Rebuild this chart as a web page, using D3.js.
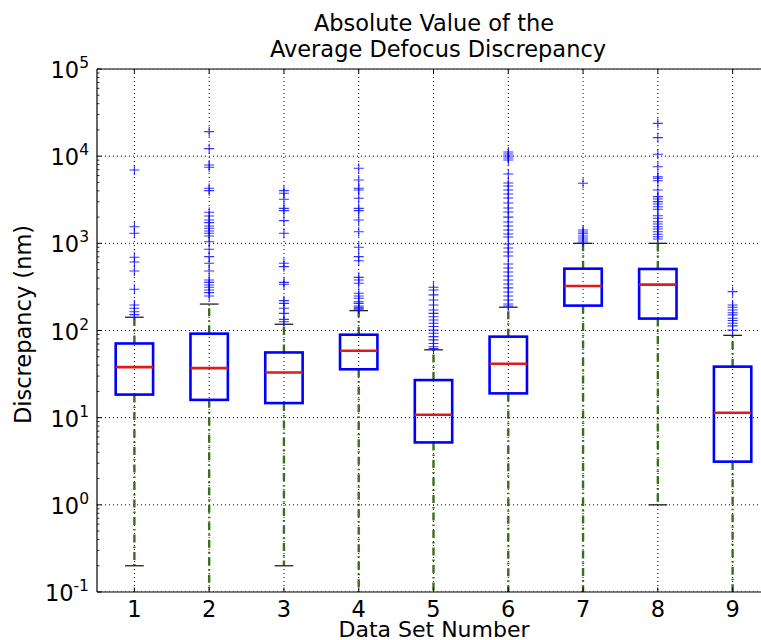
<!DOCTYPE html>
<html>
<head>
<meta charset="utf-8">
<script src="https://cdn.jsdelivr.net/npm/d3@7"></script>
<style>
  html, body { margin: 0; padding: 0; background: #fff; }
  svg text { font-family: "DejaVu Sans", sans-serif; fill: #000; }
</style>
</head>
<body>
<div id="chart"></div>
<script>
// data set numbers
const sets = [1, 2, 3, 4, 5, 6, 7, 8, 9];
// box statistics (nm)
const q1 = [18.4, 16, 14.7, 35.9, 5.2, 19, 193, 137, 3.13];
const median = [38, 37, 33, 58.6, 10.8, 41.6, 324, 336, 11.4];
const q3 = [71, 92, 56, 89.5, 27, 85, 512, 508, 38.5];
const whiskerLow = [0.2, 0.01, 0.2, 0.01, 0.01, 0.01, 0.01, 1, 0.01];
const whiskerHigh = [142, 201, 118, 169, 60, 185, 1000, 1000, 88];
// outliers ("fliers") per data set
const fliers = [
    [6940, 1552, 1303, 692, 611, 482, 297, 196, 180, 164, 152],
    [19100, 12190, 7920, 7450, 4280, 4020, 2270, 2060, 1853, 1726, 1580, 1489, 1387, 1303, 1213,
     1044, 855, 703, 590, 482, 379, 357, 333, 313, 292, 272, 249],
    [4020, 3750, 3200, 2520, 2370, 1820, 1303, 590, 540, 357, 339, 220, 205, 180, 157, 134, 126],
    [7260, 5330, 4280, 4090, 3290, 2520, 2370, 1853, 1360, 901, 703, 632, 407, 379, 348, 267,
     249, 234, 214, 205, 191, 185, 180, 175],
    [313, 292, 256, 224, 196, 172, 157, 144, 132, 121, 111, 101, 93, 85, 78, 71, 65, 62],
    [11170, 10590, 10050, 9530, 9040, 6240, 4920, 4550, 4090, 3680, 3310, 2900, 2540, 2290, 2000,
     1760, 1580, 1420, 1280, 1180, 982, 883, 796, 716, 579, 521, 469, 422, 379, 342, 308, 277,
     249, 224, 201, 191],
    [4890, 1420, 1349, 1290, 1213, 1151, 1092, 1035],
    [23800, 16300, 10500, 7570, 5810, 5570, 5230, 4090, 3430, 3230, 3010, 2830, 2630, 2460, 2070,
     1940, 1770, 1667, 1552, 1459, 1360, 1270, 1191, 1122],
    [279, 196, 185, 172, 160, 151, 138, 130, 121, 113, 101]
];
const yDecades = [-1, 0, 1, 2, 3, 4, 5];

const width = 761, height = 640;
const margin = {top: 69, left: 97, bottom: 592, right: 770};

const svg = d3.select('#chart').append('svg')
    .attr('width', width)
    .attr('height', height);

const x = d3.scaleLinear().domain([0.5, 9.5]).range([margin.left, margin.right]);
const y = d3.scaleLog().domain([0.1, 1e5]).range([margin.bottom, margin.top]);

svg.append('defs').append('clipPath')
    .attr('id', 'plotClip')
    .append('rect')
    .attr('x', margin.left)
    .attr('y', margin.top)
    .attr('width', margin.right - margin.left)
    .attr('height', margin.bottom - margin.top);

const plot = svg.append('g').attr('clip-path', 'url(#plotClip)');

// grid
plot.selectAll('.vgrid').data(sets).enter().append('line')
    .attr('x1', d => x(d)).attr('x2', d => x(d))
    .attr('y1', margin.top).attr('y2', margin.bottom)
    .attr('stroke', '#000').attr('stroke-width', 1)
    .attr('stroke-dasharray', '1,3');
plot.selectAll('.hgrid').data(yDecades).enter().append('line')
    .attr('x1', margin.left).attr('x2', margin.right)
    .attr('y1', d => y(Math.pow(10, d))).attr('y2', d => y(Math.pow(10, d)))
    .attr('stroke', '#000').attr('stroke-width', 1)
    .attr('stroke-dasharray', '1,3');

const boxW = 0.5, capW = 0.25;
const boxes = plot.selectAll('.box').data(sets).enter().append('g');

// whiskers
boxes.append('line')
    .attr('x1', d => x(d)).attr('x2', d => x(d))
    .attr('y1', (d, i) => y(q3[i])).attr('y2', (d, i) => y(whiskerHigh[i]))
    .attr('stroke', '#3a6f1e').attr('stroke-width', 2.4)
    .attr('stroke-dasharray', '8,4,1.5,4');
boxes.append('line')
    .attr('x1', d => x(d)).attr('x2', d => x(d))
    .attr('y1', (d, i) => y(q1[i])).attr('y2', (d, i) => y(whiskerLow[i]))
    .attr('stroke', '#3a6f1e').attr('stroke-width', 2.4)
    .attr('stroke-dasharray', '8,4,1.5,4');

// caps
[whiskerHigh, whiskerLow].forEach(arr => {
    boxes.append('line')
        .attr('x1', d => x(d - capW / 2)).attr('x2', d => x(d + capW / 2))
        .attr('y1', (d, i) => y(arr[i])).attr('y2', (d, i) => y(arr[i]))
        .attr('stroke', '#222').attr('stroke-width', 1.3);
});

// boxes
boxes.append('rect')
    .attr('x', d => x(d - boxW / 2))
    .attr('width', x(1 + boxW) - x(1))
    .attr('y', (d, i) => y(q3[i]))
    .attr('height', (d, i) => y(q1[i]) - y(q3[i]))
    .attr('fill', 'none')
    .attr('stroke', '#0000ff').attr('stroke-width', 2.6);

// medians
boxes.append('line')
    .attr('x1', d => x(d - boxW / 2)).attr('x2', d => x(d + boxW / 2))
    .attr('y1', (d, i) => y(median[i])).attr('y2', (d, i) => y(median[i]))
    .attr('stroke', '#dd1c1c').attr('stroke-width', 2.6);

// outliers
const plus = 'M-5,0H5M0,-5V5';
boxes.each(function (d, i) {
    d3.select(this).selectAll('path.flier').data(fliers[i]).enter().append('path')
        .attr('class', 'flier')
        .attr('transform', v => `translate(${x(d)},${y(v)})`)
        .attr('d', plus)
        .attr('fill', 'none')
        .attr('stroke', '#0000ff').attr('stroke-width', 1.1)
        .attr('stroke-opacity', 0.8);
});

// spines
const axesG = svg.append('g');
axesG.append('line')
    .attr('x1', margin.left).attr('x2', margin.left)
    .attr('y1', margin.top).attr('y2', margin.bottom)
    .attr('stroke', '#000').attr('stroke-width', 1.2);
axesG.append('line')
    .attr('x1', margin.left).attr('x2', margin.right)
    .attr('y1', margin.bottom).attr('y2', margin.bottom)
    .attr('stroke', '#000').attr('stroke-width', 1.2);
axesG.append('line')
    .attr('x1', margin.left).attr('x2', margin.right)
    .attr('y1', margin.top).attr('y2', margin.top)
    .attr('stroke', '#000').attr('stroke-width', 1.2);

// y ticks (major + minor, inward)
const minor = [];
yDecades.slice(0, -1).forEach(e => {
    for (let k = 2; k <= 9; k++) minor.push(k * Math.pow(10, e));
});
axesG.selectAll('.ymin').data(minor).enter().append('line')
    .attr('x1', margin.left).attr('x2', margin.left + 2.5)
    .attr('y1', d => y(d)).attr('y2', d => y(d))
    .attr('stroke', '#000').attr('stroke-width', 0.8);
axesG.selectAll('.ymaj').data(yDecades).enter().append('line')
    .attr('x1', margin.left).attr('x2', margin.left + 4.5)
    .attr('y1', d => y(Math.pow(10, d))).attr('y2', d => y(Math.pow(10, d)))
    .attr('stroke', '#000').attr('stroke-width', 1);

// y tick labels: 10^n
const ylab = axesG.selectAll('.ylab').data(yDecades).enter().append('text')
    .attr('x', margin.left - 8)
    .attr('y', d => y(Math.pow(10, d)) + 9)
    .attr('text-anchor', 'end')
    .style('font-size', '22.5px');
ylab.append('tspan').text('10');
ylab.append('tspan')
    .attr('dy', -10)
    .style('font-size', '15.5px')
    .text(d => d);

// x ticks (inward, bottom and top)
axesG.selectAll('.xtb').data(sets).enter().append('line')
    .attr('x1', d => x(d)).attr('x2', d => x(d))
    .attr('y1', margin.bottom).attr('y2', margin.bottom - 4.5)
    .attr('stroke', '#000').attr('stroke-width', 1);
axesG.selectAll('.xtt').data(sets).enter().append('line')
    .attr('x1', d => x(d)).attr('x2', d => x(d))
    .attr('y1', margin.top).attr('y2', margin.top + 4.5)
    .attr('stroke', '#000').attr('stroke-width', 1);
axesG.selectAll('.xlab').data(sets).enter().append('text')
    .attr('x', d => x(d))
    .attr('y', 617)
    .attr('text-anchor', 'middle')
    .style('font-size', '22.5px')
    .text(d => d);

// axis titles
svg.append('text')
    .attr('x', 434)
    .attr('y', 637)
    .attr('text-anchor', 'middle')
    .style('font-size', '22px')
    .text('Data Set Number');
svg.append('text')
    .attr('transform', `translate(31,${(margin.top + margin.bottom) / 2 - 6}) rotate(-90)`)
    .attr('text-anchor', 'middle')
    .style('font-size', '22.5px')
    .text('Discrepancy (nm)');

// title
const title = svg.append('text')
    .attr('text-anchor', 'middle')
    .style('font-size', '22.5px');
title.append('tspan').attr('x', 434).attr('y', 31).text('Absolute Value of the');
title.append('tspan').attr('x', 438).attr('y', 57).text('Average Defocus Discrepancy');
</script>
</body>
</html>
